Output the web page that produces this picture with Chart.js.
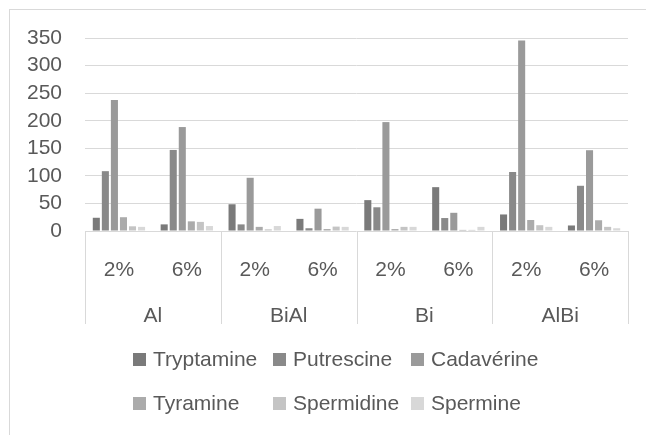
<!DOCTYPE html>
<html>
<head>
<meta charset="utf-8">
<script src="https://cdn.jsdelivr.net/npm/chart.js@4"></script>
<style>
  html, body { margin: 0; padding: 0; background: #fff; overflow: hidden; }
  #wrap { position: relative; width: 646px; height: 435px; }
  #frame { position: absolute; left: 9px; top: 9px; width: 700px; height: 700px; border: 1px solid #d9d9d9; box-sizing: border-box; }
  #legend { position: absolute; left: 133px; top: 346px; display: grid; grid-template-columns: 140px 138px 160px; row-gap: 18px;
            font-family: "Liberation Sans", Arial, sans-serif; font-size: 21px; color: #595959; }
  .item { display: flex; align-items: center; height: 26px; white-space: nowrap; }
  .box { width: 13px; height: 13px; margin-right: 7px; flex: none; }
</style>
</head>
<body>
<div id="wrap">
  <div id="frame"></div>
  <canvas id="chart" width="646" height="435"></canvas>
  <div id="legend"></div>
</div>
<script>
// Catégories
const subLabels = ['2%', '6%', '2%', '6%', '2%', '6%', '2%', '6%'];
const groupLabels = ['Al', 'BiAl', 'Bi', 'AlBi'];
const yTicks = [0, 50, 100, 150, 200, 250, 300, 350];

// Séries
const tryptamine = [24, 12, 48.5, 22, 56, 79.5, 30, 10];
const putrescine = [108.5, 147, 12, 5, 43, 23.5, 107, 82];
const cadaverine = [237.5, 188.5, 96.5, 40.5, 197.5, 33, 345.5, 146.5];
const tyramine = [25, 17.5, 7.5, 3.5, 3.5, 2, 20, 19.5];
const spermidine = [8.5, 16.5, 3, 8, 7.5, 2, 10.5, 7.5];
const spermine = [7.5, 9, 9, 7.5, 7.5, 7.5, 7.5, 5];

const seriesNames = ['Tryptamine', 'Putrescine', 'Cadavérine', 'Tyramine', 'Spermidine', 'Spermine'];
const seriesData = [tryptamine, putrescine, cadaverine, tyramine, spermidine, spermine];
const seriesColors = ['#7a7a7a', '#898989', '#9a9a9a', '#ababab', '#c4c4c4', '#d8d8d8'];

const textColor = '#595959';
const gridColor = '#d9d9d9';
const font = { family: '"Liberation Sans", Arial, sans-serif', size: 21 };

// Séparateurs verticaux entre les groupes
const separators = {
    id: 'separators',
    afterDraw(chart) {
        const x2 = chart.scales.x2;
        const ctx = chart.ctx;
        const half = (x2.getPixelForValue(1) - x2.getPixelForValue(0)) / 2;
        ctx.save();
        ctx.strokeStyle = gridColor;
        ctx.lineWidth = 1;
        for (let i = 0; i <= groupLabels.length; i++) {
            const x = Math.round(x2.getPixelForValue(0) - half + i * 2 * half) + 0.5;
            ctx.beginPath();
            ctx.moveTo(x, chart.chartArea.bottom);
            ctx.lineTo(x, x2.bottom);
            ctx.stroke();
        }
        ctx.restore();
    }
};

function buildLegend(chart) {
    const el = document.getElementById('legend');
    el.innerHTML = '';
    chart.data.datasets.forEach(ds => {
        const item = document.createElement('div');
        item.className = 'item';
        const box = document.createElement('span');
        box.className = 'box';
        box.style.background = ds.backgroundColor;
        const txt = document.createElement('span');
        txt.textContent = ds.label;
        item.appendChild(box);
        item.appendChild(txt);
        el.appendChild(item);
    });
}

window.onload = function() {
    const chart = new Chart(document.getElementById('chart'), {
        type: 'bar',
        data: {
            labels: subLabels,
            datasets: seriesNames.map((name, i) => ({
                label: name,
                data: seriesData[i],
                backgroundColor: seriesColors[i],
                categoryPercentage: 0.8,
                barPercentage: 0.78
            }))
        },
        options: {
            responsive: false,
            animation: false,
            layout: { padding: { top: 38, right: 18, bottom: 111, left: 0 } },
            plugins: {
                legend: { display: false },
                tooltip: { enabled: false }
            },
            scales: {
                y: {
                    min: 0,
                    max: 350,
                    afterBuildTicks: s => { s.ticks = yTicks.map(v => ({ value: v })); },
                    afterFit: s => { s.width = 85; },
                    border: { display: false },
                    grid: { color: gridColor, lineWidth: 1, drawTicks: false },
                    ticks: { color: textColor, font: font, padding: 23, autoSkip: false }
                },
                x: {
                    afterFit: s => { s.height = 62; },
                    border: { display: false },
                    grid: { display: false },
                    ticks: { color: textColor, font: font, padding: 19, maxRotation: 0, autoSkip: false }
                },
                x2: {
                    type: 'category',
                    labels: groupLabels,
                    position: 'bottom',
                    offset: true,
                    afterFit: s => { s.height = 31; },
                    border: { display: false },
                    grid: { display: false },
                    ticks: { color: textColor, font: font, padding: 3, maxRotation: 0, autoSkip: false }
                }
            }
        },
        plugins: [separators]
    });
    buildLegend(chart);
};
</script>
</body>
</html>
